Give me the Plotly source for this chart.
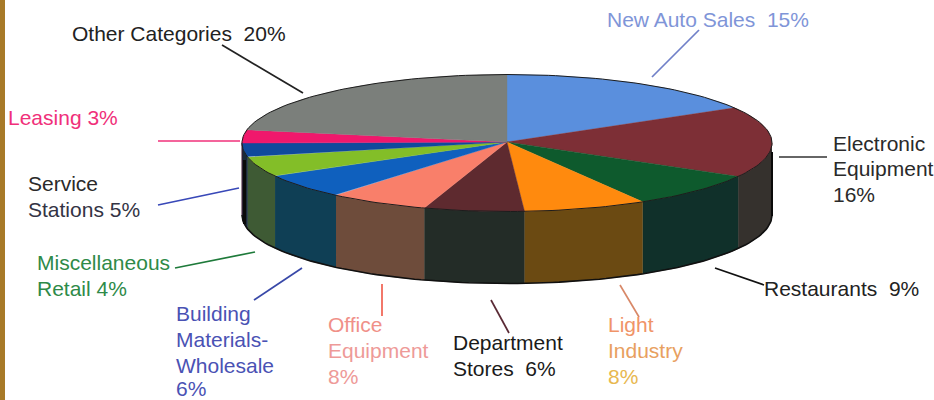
import numpy as np
import plotly.graph_objects as go

categories = ["New Auto Sales", "Electronic Equipment", "Restaurants", "Light Industry",
              "Department Stores", "Office Equipment", "Building Materials-Wholesale",
              "Miscellaneous Retail", "Service Stations", "Leasing", "Other Categories"]
# Printed percentages (as in the labels): 15, 16, 9, 8, 6, 8, 6, 4, 5, 3, 20
printed_shares = [15, 16, 9, 8, 6, 8, 6, 4, 5, 3, 20]
# Slice sizes as they appear on the drawn disc
drawn_shares = [16.4, 16.7, 8.3, 7.5, 6.1, 6.1, 5.8, 4.7, 3.3, 3.1, 21.9]
top_colors = ["#5A8FDD", "#7D2F36", "#0E5A2D", "#FF8A0E", "#5E2A2F", "#F97F6A",
              "#0F60BE", "#83BE28", "#104A9C", "#F0186C", "#7B7F7B"]
wall_colors = ["#3A4A6A", "#35312D", "#10302A", "#6B4A12", "#232C27", "#6E4C3B",
               "#0F3F55", "#3E5A34", "#1A2A3A", "#601030", "#333333"]

CX, CY, RX, RY, DEPTH = 507, 143, 265, 68.5, 72

def pt(phi, dy=0.0):
    r = np.radians(phi)
    return CX + RX * np.sin(r), CY - RY * np.cos(r) + dy

edges = np.cumsum([0] + drawn_shares) * 360.0 / sum(drawn_shares)
fig = go.Figure()

# walls
for i, name in enumerate(categories):
    a, b = max(edges[i], 90), min(edges[i + 1], 270)
    if b <= a:
        continue
    p = np.linspace(a, b, 40)
    x1, y1 = pt(p)
    x2, y2 = pt(p[::-1], DEPTH)
    fig.add_trace(go.Scatter(x=np.r_[x1, x2], y=np.r_[y1, y2], mode="lines", fill="toself",
                             fillcolor=wall_colors[i], line=dict(width=0.6, color=wall_colors[i]),
                             name=f"{name} {printed_shares[i]}%", showlegend=False))

# outer bottom edge of the wall
p = np.linspace(90, 270, 120)
xb, yb = pt(p, DEPTH)
fig.add_trace(go.Scatter(x=xb, y=yb, mode="lines", line=dict(color="#101010", width=1.6),
                         hoverinfo="skip", showlegend=False))
# silhouette verticals
for xv, y0, y1, w in ((244.5, 160, 224, 3), (772, 152, 216, 2)):
    fig.add_trace(go.Scatter(x=[xv, xv], y=[y0, y1], mode="lines",
                             line=dict(color="#0A0A0A", width=w), hoverinfo="skip", showlegend=False))

# top faces
for i, name in enumerate(categories):
    p = np.linspace(edges[i], edges[i + 1], 60)
    x, y = pt(p)
    fig.add_trace(go.Scatter(x=np.r_[CX, x, CX], y=np.r_[CY - 1, y, CY - 1], mode="lines", fill="toself",
                             fillcolor=top_colors[i], line=dict(width=0.4, color=top_colors[i]),
                             name=f"{name} {printed_shares[i]}%", showlegend=False))

# top rim
p = np.linspace(0, 360, 240)
xt, yt = pt(p)
fig.add_trace(go.Scatter(x=xt, y=yt, mode="lines", line=dict(color="#1C1C1C", width=1),
                         hoverinfo="skip", showlegend=False))

# labels: one entry per text line
label_lines = [
    ("Other Categories\u00a0\u00a020%", 71, 33, "#222222"),
    ("New Auto Sales\u00a0\u00a015%", 606, 19, "#7F95D8"),
    ("Electronic", 832, 143, "#2A2A2A"),
    ("Equipment", 832, 168, "#2A2A2A"),
    ("16%", 832, 194, "#2A2A2A"),
    ("Restaurants\u00a0\u00a09%", 763, 288, "#222222"),
    ("Light", 607, 324, "#F09468"),
    ("Industry", 607, 350, "#E8A060"),
    ("8%", 607, 376, "#E8B850"),
    ("Department", 452, 342, "#1A1A1A"),
    ("Stores\u00a0\u00a06%", 452, 368, "#1A1A1A"),
    ("Office", 327, 324, "#F09088"),
    ("Equipment", 327, 350, "#EE9A98"),
    ("8%", 327, 376, "#EE9A98"),
    ("Building", 175, 313, "#4A52B4"),
    ("Materials-", 175, 339, "#4A52B4"),
    ("Wholesale", 175, 365, "#4A52B4"),
    ("6%", 175, 388, "#4A52B4"),
    ("Miscellaneous", 36, 262, "#2E8A48"),
    ("Retail 4%", 36, 288, "#2E8A48"),
    ("Service", 27, 183, "#2A2A2A"),
    ("Stations 5%", 27, 209, "#333344"),
    ("Leasing 3%", 7, 117, "#F0307A"),
]
annotations = [dict(text=t, x=x, y=y, xref="x", yref="y", xanchor="left", yanchor="middle",
                    showarrow=False, align="left", borderpad=0,
                    font=dict(family="Liberation Sans, Arial, sans-serif", size=21, color=c))
               for t, x, y, c in label_lines]

leaders = [
    (222, 45, 303, 93, "#222222"),
    (699, 30, 652, 77, "#7080C8"),
    (779, 157, 827, 157, "#333333"),
    (715, 268, 764, 285, "#111111"),
    (620, 285, 639, 317, "#D88868"),
    (491, 300, 509, 333, "#5A2A35"),
    (382, 284, 382, 316, "#F06050"),
    (302, 268, 254, 300, "#3848A8"),
    (175, 268, 255, 252, "#1E7A3A"),
    (158, 205, 239, 188, "#3848B8"),
    (158, 141, 240, 141, "#F0307A"),
]
shapes = [dict(type="line", x0=a, y0=b, x1=c, y1=d, xref="x", yref="y",
               line=dict(color=col, width=1.7)) for a, b, c, d, col in leaders]
shapes.append(dict(type="rect", x0=0, x1=5, y0=0, y1=400, xref="x", yref="y",
                   fillcolor="#A87A28", line=dict(width=0), layer="below"))

fig.update_layout(
    width=934, height=400, margin=dict(l=0, r=0, t=0, b=0),
    paper_bgcolor="#FFFFFF", plot_bgcolor="#FFFFFF", showlegend=False,
    xaxis=dict(range=[0, 934], visible=False, fixedrange=True),
    yaxis=dict(range=[400, 0], visible=False, fixedrange=True),
    annotations=annotations, shapes=shapes,
)
fig.write_html("out.html", config=dict(displayModeBar=False),
               post_script="document.body.style.margin='0';document.body.style.overflow='hidden';")
